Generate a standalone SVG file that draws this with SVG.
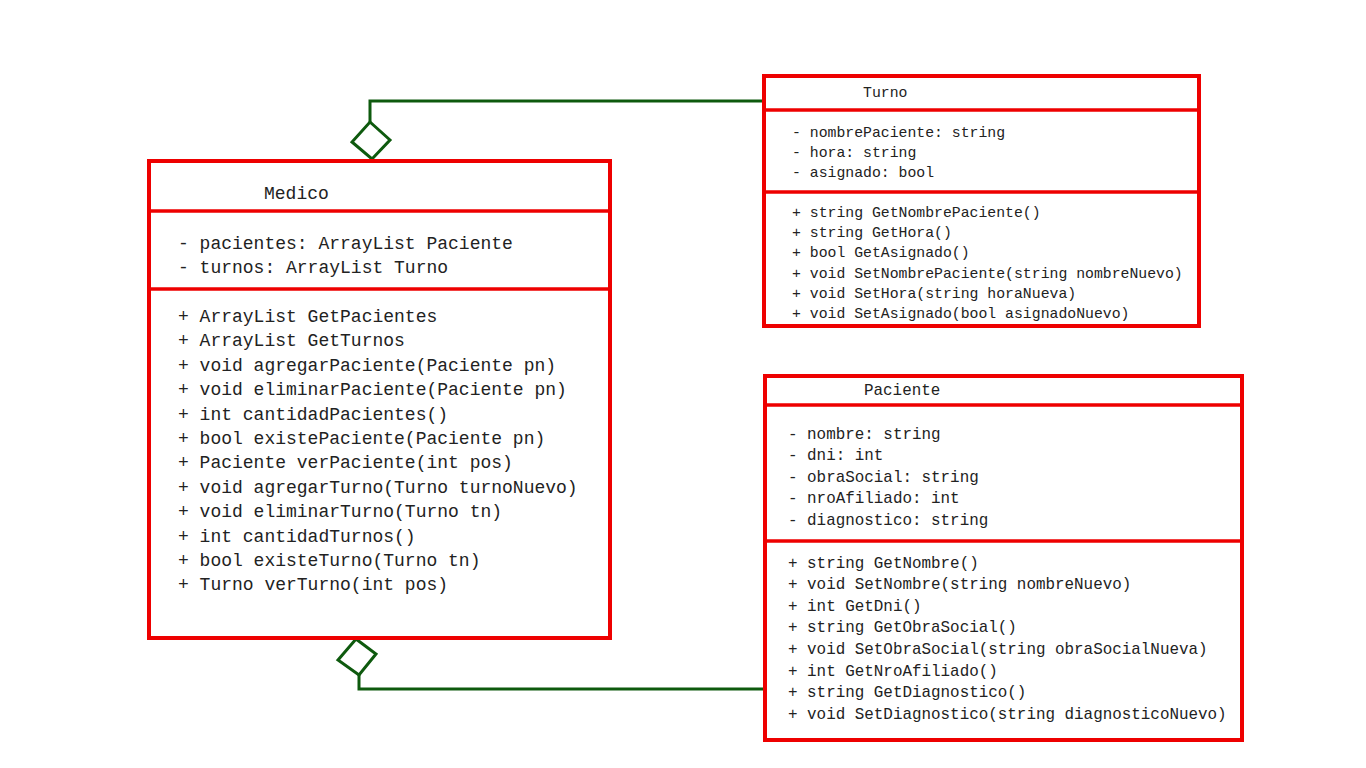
<svg xmlns="http://www.w3.org/2000/svg" width="1366" height="768" viewBox="0 0 1366 768">
<style>
.box{fill:#fff;stroke:#ee0000;stroke-width:4}
.div{stroke:#ee0000;stroke-width:3.5}
.t{font-family:"Liberation Mono","DejaVu Sans Mono",monospace;fill:#222}
.m{font-size:18px}
.s{font-size:14.8px}
.p{font-size:15.9px}
.con{fill:none;stroke:#0e5a0e;stroke-width:3}
.dia{fill:#fff;stroke:#0e5a0e;stroke-width:3}
</style>
<rect width="1366" height="768" fill="#fff"/>
<g id="connectors">
<polyline class="con" points="370,122 370,101 763,101"/>
<polygon class="dia" points="370,122 390,140 372,159 352,142"/>
<polyline class="con" points="359,675 359,689 763,689"/>
<polygon class="dia" points="356,639 376,654 359,675 338,660"/>
</g>
<g id="Medico">
<rect class="box" x="149" y="161" width="461" height="477"/>
<line class="div" x1="149" y1="211" x2="610" y2="211"/>
<line class="div" x1="149" y1="289" x2="610" y2="289"/>
<text class="t m" x="264" y="199">Medico</text>
<text class="t m"><tspan x="178" y="249">- pacientes: ArrayList Paciente</tspan><tspan x="178" y="273">- turnos: ArrayList Turno</tspan></text>
<text class="t m"><tspan x="178" y="322">+ ArrayList GetPacientes</tspan><tspan x="178" y="346.4">+ ArrayList GetTurnos</tspan><tspan x="178" y="370.8">+ void agregarPaciente(Paciente pn)</tspan><tspan x="178" y="395.2">+ void eliminarPaciente(Paciente pn)</tspan><tspan x="178" y="419.6">+ int cantidadPacientes()</tspan><tspan x="178" y="444">+ bool existePaciente(Paciente pn)</tspan><tspan x="178" y="468.4">+ Paciente verPaciente(int pos)</tspan><tspan x="178" y="492.8">+ void agregarTurno(Turno turnoNuevo)</tspan><tspan x="178" y="517.2">+ void eliminarTurno(Turno tn)</tspan><tspan x="178" y="541.6">+ int cantidadTurnos()</tspan><tspan x="178" y="566">+ bool existeTurno(Turno tn)</tspan><tspan x="178" y="590.4">+ Turno verTurno(int pos)</tspan></text>
</g>
<g id="Turno">
<rect class="box" x="764" y="76" width="435" height="250"/>
<line class="div" x1="764" y1="110" x2="1199" y2="110"/>
<line class="div" x1="764" y1="192" x2="1199" y2="192"/>
<text class="t s" x="863" y="97">Turno</text>
<text class="t s"><tspan x="792" y="137">- nombrePaciente: string</tspan><tspan x="792" y="157">- hora: string</tspan><tspan x="792" y="177">- asignado: bool</tspan></text>
<text class="t s"><tspan x="792" y="217">+ string GetNombrePaciente()</tspan><tspan x="792" y="237.2">+ string GetHora()</tspan><tspan x="792" y="257.4">+ bool GetAsignado()</tspan><tspan x="792" y="277.6">+ void SetNombrePaciente(string nombreNuevo)</tspan><tspan x="792" y="297.8">+ void SetHora(string horaNueva)</tspan><tspan x="792" y="318">+ void SetAsignado(bool asignadoNuevo)</tspan></text>
</g>
<g id="Paciente">
<rect class="box" x="765" y="376" width="477" height="364"/>
<line class="div" x1="765" y1="405" x2="1242" y2="405"/>
<line class="div" x1="765" y1="541" x2="1242" y2="541"/>
<text class="t p" x="864" y="394.5">Paciente</text>
<text class="t p"><tspan x="788" y="438.5">- nombre: string</tspan><tspan x="788" y="460">- dni: int</tspan><tspan x="788" y="481.5">- obraSocial: string</tspan><tspan x="788" y="503">- nroAfiliado: int</tspan><tspan x="788" y="524.5">- diagnostico: string</tspan></text>
<text class="t p"><tspan x="788" y="567.5">+ string GetNombre()</tspan><tspan x="788" y="589.1">+ void SetNombre(string nombreNuevo)</tspan><tspan x="788" y="610.7">+ int GetDni()</tspan><tspan x="788" y="632.3">+ string GetObraSocial()</tspan><tspan x="788" y="653.9">+ void SetObraSocial(string obraSocialNueva)</tspan><tspan x="788" y="675.5">+ int GetNroAfiliado()</tspan><tspan x="788" y="697.1">+ string GetDiagnostico()</tspan><tspan x="788" y="718.7">+ void SetDiagnostico(string diagnosticoNuevo)</tspan></text>
</g>
</svg>
